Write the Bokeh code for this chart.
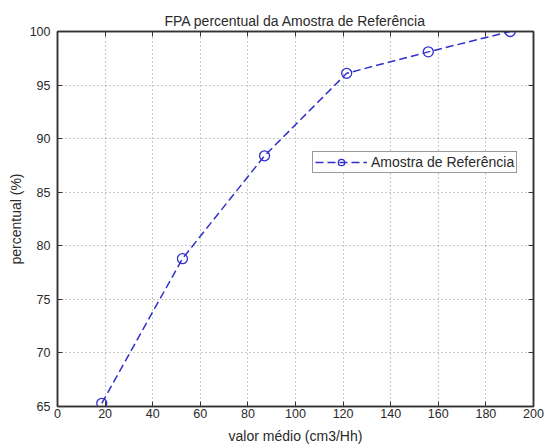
from bokeh.plotting import figure
from bokeh.models import (ColumnDataSource, Range1d, LinearAxis, FixedTicker,
                          Legend, LegendItem)
from bokeh.embed import file_html
from bokeh.resources import INLINE

# Reference sample: mean value (cm3/Hh) vs cumulative percentage
valor_medio = [18.6, 52.5, 87.0, 121.5, 155.8, 190.2]
percentual = [65.3, 78.8, 88.4, 96.1, 98.1, 100.0]

x_ticks = [0, 20, 40, 60, 80, 100, 120, 140, 160, 180, 200]
y_ticks = [65, 70, 75, 80, 85, 90, 95, 100]

FONT = "Liberation Sans"
AXIS_COLOR = "#333333"
TEXT_COLOR = "#2a2a2a"
LINE_COLOR = "#3030cc"

src = ColumnDataSource(data=dict(x=valor_medio, y=percentual))

p = figure(width=545, height=448, output_backend="svg", toolbar_location=None,
           x_range=Range1d(0, 200), y_range=Range1d(65, 100),
           min_border_left=57, min_border_right=12,
           min_border_top=31, min_border_bottom=42,
           background_fill_color="white", border_fill_color="white")

p.title.text = "FPA percentual da Amostra de Referência"
p.title.align = "center"
p.title.text_font = FONT
p.title.text_font_size = "14px"
p.title.text_font_style = "normal"
p.title.text_color = TEXT_COLOR
p.title.offset = 0
p.title.standoff = 5

p.outline_line_color = AXIS_COLOR
p.outline_line_width = 1.5


def style_axis(ax, ticks, show_labels):
    ax.ticker = FixedTicker(ticks=ticks)
    ax.axis_line_color = AXIS_COLOR
    ax.axis_line_width = 1.5
    ax.major_tick_in = 5
    ax.major_tick_out = 0
    ax.major_tick_line_color = AXIS_COLOR
    ax.minor_tick_line_color = None
    ax.major_label_text_font = FONT
    ax.major_label_text_font_size = "12.5px"
    ax.major_label_text_color = TEXT_COLOR
    ax.major_label_standoff = 4
    ax.axis_label_text_font = FONT
    ax.axis_label_text_font_size = "14px"
    ax.axis_label_text_font_style = "normal"
    ax.axis_label_text_color = TEXT_COLOR
    ax.axis_label_standoff = 3
    if not show_labels:
        # frame-only axis: inward ticks, no labels
        ax.major_label_overrides = {t: "" for t in ticks}
        ax.major_label_standoff = 0


style_axis(p.xaxis[0], x_ticks, True)
style_axis(p.yaxis[0], y_ticks, True)
p.xaxis[0].axis_label = "valor médio (cm3/Hh)"
p.yaxis[0].axis_label = "percentual (%)"
p.xaxis[0].major_label_standoff = 2
p.xaxis[0].axis_label_standoff = 7
p.yaxis[0].major_label_standoff = 7

# Box axes on top and right with inward ticks only
top = LinearAxis()
right = LinearAxis()
style_axis(top, x_ticks, False)
style_axis(right, y_ticks, False)
p.add_layout(top, "above")
p.add_layout(right, "right")

for g in (p.xgrid[0], p.ygrid[0]):
    g.grid_line_color = "#909090"
    g.grid_line_dash = "1 3"
    g.grid_line_width = 1
p.xgrid[0].ticker = FixedTicker(ticks=x_ticks)
p.ygrid[0].ticker = FixedTicker(ticks=y_ticks)

ln = p.line("x", "y", source=src, line_color=LINE_COLOR, line_width=1.5,
            line_dash="8 4")
mk = p.scatter("x", "y", source=src, marker="circle", size=10,
               line_color=LINE_COLOR, line_width=1.3, fill_color=None)

legend = Legend(items=[LegendItem(label="Amostra de Referência", renderers=[ln, mk])],
                location=(255, 233))
legend.label_text_font = FONT
legend.label_text_font_size = "14px"
legend.label_text_color = TEXT_COLOR
legend.border_line_color = AXIS_COLOR
legend.border_line_width = 1.5
legend.background_fill_color = "white"
legend.background_fill_alpha = 1
legend.glyph_width = 52
legend.glyph_height = 16
legend.padding = 2
legend.margin = 0
legend.label_standoff = 4
legend.label_height = 16
p.add_layout(legend, "center")

open("out.html", "w").write(file_html(p, INLINE))
